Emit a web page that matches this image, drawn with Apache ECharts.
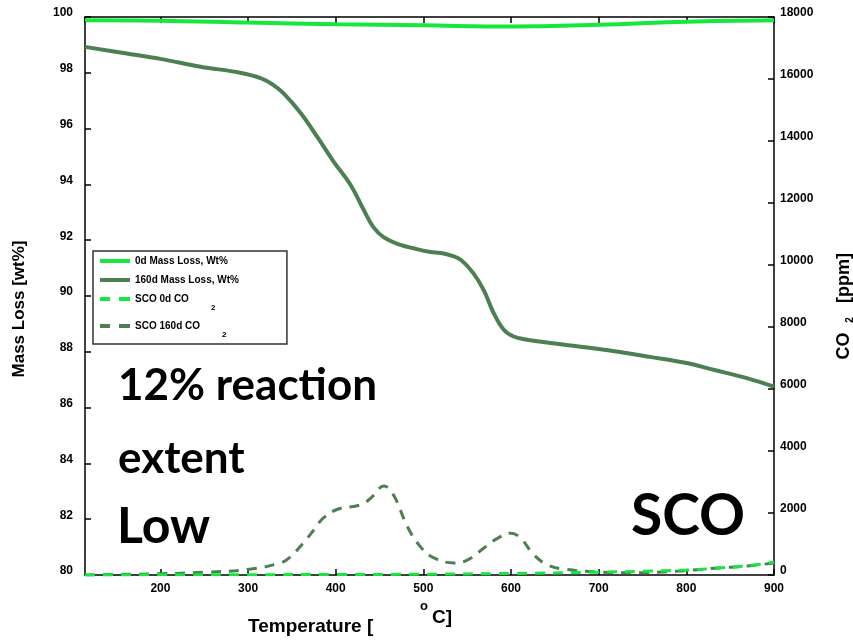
<!DOCTYPE html>
<html>
<head>
<meta charset="utf-8">
<title>SCO TGA / CO2</title>
<script src="https://cdn.jsdelivr.net/npm/echarts@6/dist/echarts.min.js"></script>
<style>
  html, body { margin: 0; padding: 0; background: #fff; }
  #chart { width: 853px; height: 640px; }
</style>
</head>
<body>
<div id="chart"></div>
<script>
// Temperatures (°C) and values for each trace
const mass0Temp = [114, 200, 300, 400, 500, 600, 700, 800, 900];
const mass0 = [99.88, 99.87, 99.80, 99.74, 99.70, 99.66, 99.72, 99.83, 99.88];

const mass160Temp = [114, 160, 200, 246, 291, 315, 329, 340, 360, 379, 398, 417, 432, 443, 455, 474, 490, 508, 520, 532, 543, 557, 569, 580, 592, 603, 615, 650, 700, 760, 800, 832, 870, 900];
const mass160 = [98.93, 98.7, 98.5, 98.22, 98.0, 97.8, 97.56, 97.28, 96.56, 95.7, 94.8, 93.98, 93.08, 92.47, 92.1, 91.83, 91.7, 91.58, 91.54, 91.45, 91.29, 90.82, 90.2, 89.4, 88.78, 88.55, 88.45, 88.3, 88.1, 87.81, 87.6, 87.35, 87.05, 86.75];

const co2d0Temp = [114, 200, 300, 400, 500, 600, 700, 750, 800, 840, 880, 900];
const co2d0 = [0, 5, 10, 15, 25, 50, 90, 120, 160, 230, 330, 420];

const co2d160Temp = [114, 200, 250, 300, 337, 348, 362, 375, 386, 403, 428, 440, 455, 466, 482, 497, 512, 535, 550, 569, 585, 600, 611, 626, 642, 660, 699, 737, 794, 832, 870, 900];
const co2d160 = [0, 40, 90, 180, 390, 580, 1000, 1450, 1840, 2130, 2260, 2480, 2870, 2580, 1550, 900, 550, 390, 480, 870, 1190, 1350, 1190, 650, 320, 190, 100, 70, 130, 220, 290, 390];

const seriesNames = ['0d Mass Loss, Wt%', '160d Mass Loss, Wt%', 'SCO 0d CO2', 'SCO 160d CO2'];

const BRIGHT = '#14e83c';
const DARK = '#4c8052';
const FONT = 'Liberation Sans, Arial, sans-serif';

// legend glyphs: a solid bar, or two dashes
const SOLID_ICON = 'path://M0,0h30v4h-30z';
const DASH_ICON = 'path://M0,0h10v4h-10z M19,0h11v4h-11z';

function pairs(xs, ys) { return xs.map((x, i) => [x, ys[i]]); }

const tickLabel = { color: '#000', fontWeight: 'bold', fontSize: 12, fontFamily: FONT };
const axisLineStyle = { color: '#000', width: 1.5 };

function xAx(extra) {
  return Object.assign({
    type: 'value', min: 114, max: 900, minInterval: 100, maxInterval: 100,
    axisLine: { show: true, onZero: false, lineStyle: axisLineStyle },
    axisTick: { show: true, inside: true, length: 6, lineStyle: axisLineStyle },
    splitLine: { show: false }
  }, extra);
}

const chart = echarts.init(document.getElementById('chart'), null, { renderer: 'canvas' });

chart.setOption({
  animation: false,
  backgroundColor: '#fff',
  grid: { left: 85, right: 79, top: 17, bottom: 65, containLabel: false },
  legend: {
    orient: 'vertical', left: 93, top: 251,
    padding: [5, 48, 5, 7], itemGap: 9,
    itemWidth: 30, itemHeight: 4,
    borderColor: '#333', borderWidth: 1.5,
    data: [
      { name: seriesNames[0], icon: SOLID_ICON },
      { name: seriesNames[1], icon: SOLID_ICON },
      { name: seriesNames[2], icon: DASH_ICON },
      { name: seriesNames[3], icon: DASH_ICON }
    ],
    formatter: n => n.replace('CO2', 'CO{s|2}'),
    textStyle: {
      color: '#000', fontWeight: 'bold', fontSize: 10, fontFamily: FONT,
      rich: { s: { fontSize: 8, fontWeight: 'bold', fontFamily: FONT, color: '#000', padding: [18, 0, 0, 22] } }
    }
  },
  xAxis: [
    xAx({ position: 'bottom', axisLabel: Object.assign({ showMinLabel: false, margin: 8 }, tickLabel) }),
    xAx({ position: 'top', axisLabel: { show: false } })
  ],
  yAxis: [
    {
      type: 'value', min: 80, max: 100, interval: 2, position: 'left',
      axisLine: { show: true, onZero: false, lineStyle: axisLineStyle },
      axisTick: { show: true, inside: true, length: 6, lineStyle: axisLineStyle },
      axisLabel: Object.assign({ margin: 12, verticalAlign: 'bottom', lineHeight: 8 }, tickLabel),
      splitLine: { show: false }
    },
    {
      type: 'value', min: 0, max: 18000, interval: 2000, position: 'right',
      axisLine: { show: true, onZero: false, lineStyle: axisLineStyle },
      axisTick: { show: true, inside: true, length: 6, lineStyle: axisLineStyle },
      axisLabel: Object.assign({ margin: 6, verticalAlign: 'bottom', lineHeight: 8, formatter: v => String(v) }, tickLabel),
      splitLine: { show: false }
    }
  ],
  series: [
    {
      name: seriesNames[0], type: 'line', xAxisIndex: 0, yAxisIndex: 0,
      data: pairs(mass0Temp, mass0), smooth: 0.4, symbol: 'none',
      lineStyle: { color: BRIGHT, width: 4 }, itemStyle: { color: BRIGHT }, z: 4
    },
    {
      name: seriesNames[1], type: 'line', xAxisIndex: 0, yAxisIndex: 0,
      data: pairs(mass160Temp, mass160), smooth: 0.4, symbol: 'none',
      lineStyle: { color: DARK, width: 4 }, itemStyle: { color: DARK }, z: 3
    },
    {
      name: seriesNames[2], type: 'line', xAxisIndex: 0, yAxisIndex: 1,
      data: pairs(co2d0Temp, co2d0), smooth: 0.4, symbol: 'none',
      lineStyle: { color: BRIGHT, width: 3, type: [10, 8] }, itemStyle: { color: BRIGHT }, z: 4
    },
    {
      name: seriesNames[3], type: 'line', xAxisIndex: 0, yAxisIndex: 1,
      data: pairs(co2d160Temp, co2d160), smooth: 0.4, symbol: 'none',
      lineStyle: { color: DARK, width: 3, type: [10, 8] }, itemStyle: { color: DARK }, z: 3
    }
  ],
  graphic: [
    // axis titles
    { type: 'text', x: 19, y: 309, rotation: Math.PI / 2,
      style: { text: 'Mass Loss [wt%]', fill: '#000', font: 'bold 17px ' + FONT, align: 'center', verticalAlign: 'middle' } },
    { type: 'text', x: 844, y: 346, rotation: Math.PI / 2,
      style: { text: 'CO', fill: '#000', font: 'bold 18px ' + FONT, align: 'center', verticalAlign: 'middle' } },
    { type: 'text', x: 850, y: 320, rotation: Math.PI / 2,
      style: { text: '2', fill: '#000', font: 'bold 10px ' + FONT, align: 'center', verticalAlign: 'middle' } },
    { type: 'text', x: 844, y: 278, rotation: Math.PI / 2,
      style: { text: '[ppm]', fill: '#000', font: 'bold 18px ' + FONT, align: 'center', verticalAlign: 'middle' } },
    { type: 'text', x: 248, y: 627,
      style: { text: 'Temperature [', fill: '#000', font: 'bold 19px ' + FONT, align: 'left', verticalAlign: 'middle' } },
    { type: 'text', x: 424, y: 606,
      style: { text: 'o', fill: '#000', font: 'bold 13px ' + FONT, align: 'center', verticalAlign: 'middle' } },
    { type: 'text', x: 432, y: 618,
      style: { text: 'C]', fill: '#000', font: 'bold 19px ' + FONT, align: 'left', verticalAlign: 'middle' } },
    // annotations
    { type: 'text', x: 118, y: 386,
      style: { text: '12% reaction', fill: '#000', font: 'bold 44px Lato, sans-serif', align: 'left', verticalAlign: 'middle' } },
    { type: 'text', x: 118, y: 459,
      style: { text: 'extent', fill: '#000', font: 'bold 44px Lato, sans-serif', align: 'left', verticalAlign: 'middle' } },
    { type: 'text', x: 117, y: 527,
      style: { text: 'Low', fill: '#000', font: 'bold 50px Lato, sans-serif', align: 'left', verticalAlign: 'middle' } },
    { type: 'text', x: 631, y: 517,
      style: { text: 'SCO', fill: '#000', font: 'bold 57px Lato, sans-serif', align: 'left', verticalAlign: 'middle' } }
  ]
});
</script>
</body>
</html>
